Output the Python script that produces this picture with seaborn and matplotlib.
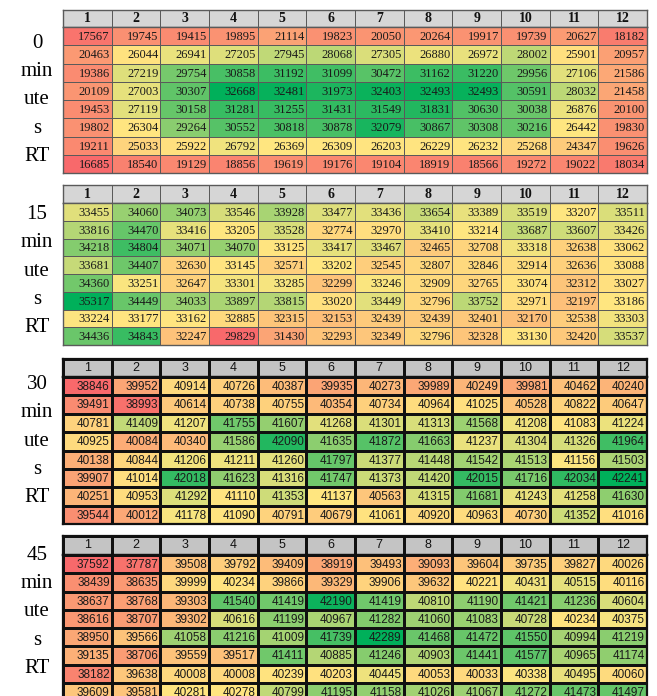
import matplotlib
matplotlib.use("Agg")
import matplotlib.pyplot as plt
import numpy as np
import seaborn as sns
from matplotlib.colors import LinearSegmentedColormap, ListedColormap, TwoSlopeNorm

# ─── data: plate readings (8 rows x 12 columns) ─────────────────
columns = [str(c) for c in range(1, 13)]

rt0 = [
    [17567, 19745, 19415, 19895, 21114, 19823, 20050, 20264, 19917, 19739, 20627, 18182],
    [20463, 26044, 26941, 27205, 27945, 28068, 27305, 26880, 26972, 28002, 25901, 20957],
    [19386, 27219, 29754, 30858, 31192, 31099, 30472, 31162, 31220, 29956, 27106, 21586],
    [20109, 27003, 30307, 32668, 32481, 31973, 32403, 32493, 32493, 30591, 28032, 21458],
    [19453, 27119, 30158, 31281, 31255, 31431, 31549, 31831, 30630, 30038, 26876, 20100],
    [19802, 26304, 29264, 30552, 30818, 30878, 32079, 30867, 30308, 30216, 26442, 19830],
    [19211, 25033, 25922, 26792, 26369, 26309, 26203, 26229, 26232, 25268, 24347, 19626],
    [16685, 18540, 19129, 18856, 19619, 19176, 19104, 18919, 18566, 19272, 19022, 18034],
]
rt15 = [
    [33455, 34060, 34073, 33546, 33928, 33477, 33436, 33654, 33389, 33519, 33207, 33511],
    [33816, 34470, 33416, 33205, 33528, 32774, 32970, 33410, 33214, 33687, 33607, 33426],
    [34218, 34804, 34071, 34070, 33125, 33417, 33467, 32465, 32708, 33318, 32638, 33062],
    [33681, 34407, 32630, 33145, 32571, 33202, 32545, 32807, 32846, 32914, 32636, 33088],
    [34360, 33251, 32647, 33301, 33285, 32299, 33246, 32909, 32765, 33074, 32312, 33027],
    [35317, 34449, 34033, 33897, 33815, 33020, 33449, 32796, 33752, 32971, 32197, 33186],
    [33224, 33177, 33162, 32885, 32315, 32153, 32439, 32439, 32401, 32170, 32538, 33303],
    [34436, 34843, 32247, 29829, 31430, 32293, 32349, 32796, 32328, 33130, 32420, 33537],
]
rt30 = [
    [38846, 39952, 40914, 40726, 40387, 39935, 40273, 39989, 40249, 39981, 40462, 40240],
    [39491, 38993, 40614, 40738, 40755, 40354, 40734, 40964, 41025, 40528, 40822, 40647],
    [40781, 41409, 41207, 41755, 41607, 41268, 41301, 41313, 41568, 41208, 41083, 41224],
    [40925, 40084, 40340, 41586, 42090, 41635, 41872, 41663, 41237, 41304, 41326, 41964],
    [40138, 40844, 41206, 41211, 41260, 41797, 41377, 41448, 41542, 41513, 41156, 41503],
    [39907, 41014, 42018, 41623, 41316, 41747, 41373, 41420, 42015, 41716, 42034, 42241],
    [40251, 40953, 41292, 41110, 41353, 41137, 40563, 41315, 41681, 41243, 41258, 41630],
    [39544, 40012, 41178, 41090, 40791, 40679, 41061, 40920, 40963, 40730, 41352, 41016],
]
rt45 = [
    [37592, 37787, 39508, 39792, 39409, 38919, 39493, 39093, 39604, 39735, 39827, 40026],
    [38439, 38635, 39999, 40234, 39866, 39329, 39906, 39632, 40221, 40431, 40515, 40116],
    [38637, 38768, 39303, 41540, 41419, 42190, 41419, 40810, 41190, 41421, 41236, 40604],
    [38616, 38707, 39302, 40616, 41199, 40967, 41282, 41060, 41083, 40728, 40234, 40375],
    [38950, 39566, 41058, 41216, 41009, 41739, 42289, 41468, 41472, 41550, 40994, 41219],
    [39135, 38706, 39559, 39517, 41411, 40885, 41246, 40903, 41441, 41577, 40965, 41174],
    [38182, 39638, 40008, 40008, 40239, 40203, 40445, 40053, 40033, 40338, 40495, 40060],
    [39609, 39581, 40281, 40278, 40799, 41195, 41158, 41026, 41067, 41272, 41473, 41497],
]

labels = ["0\nmin\nute\ns\nRT", "15\nmin\nute\ns\nRT", "30\nmin\nute\ns\nRT", "45\nmin\nute\ns\nRT"]
plates = [rt0, rt15, rt30, rt45]

# ─── style ──────────────────────────────────────────────────────
CMAP = LinearSegmentedColormap.from_list("excel3", ["#F8696B", "#FFE680", "#00B05A"])
W, H = 657, 696

# (header top, header bottom, body bottom) in pixels, per panel
PANEL_Y = [(10, 27, 173), (185, 203, 345), (359, 377, 524), (536, 555, 701)]
LABEL_Y = [100, 271, 441, 612]
X0, X1 = 63, 647
SERIF = ["Liberation Serif", "DejaVu Serif"]
SANS = ["Liberation Sans", "DejaVu Sans"]

fig = plt.figure(figsize=(W / 100, H / 100), dpi=100, facecolor="white")


def px_axes(x0, x1, y0, y1):
    return fig.add_axes([x0 / W, 1 - y1 / H, (x1 - x0) / W, (y1 - y0) / H])


for i, (data, label) in enumerate(zip(plates, labels)):
    arr = np.array(data, dtype=float)
    top, mid, bot = PANEL_Y[i]
    old_style = i < 2
    family = SERIF if old_style else SANS
    lc = "#5a5a5a" if old_style else "#111111"

    # header row with column numbers
    ax_h = px_axes(X0, X1, top, mid)
    sns.heatmap(
        np.zeros((1, 12)),
        cmap=ListedColormap(["#D6D6D6" if old_style else "#C4C4C4"]),
        annot=np.array([columns]),
        fmt="",
        cbar=False,
        linewidths=0.7 if old_style else 0.9,
        linecolor=lc,
        annot_kws=dict(
            color="#111111",
            fontsize=10 if old_style else 9,
            fontweight="bold" if old_style else "normal",
            family=family,
        ),
        ax=ax_h,
    )
    ax_h.set_xticks([])
    ax_h.set_yticks([])

    # body
    ax = px_axes(X0, X1, mid, bot)
    norm = TwoSlopeNorm(vmin=arr.min(), vcenter=np.median(arr), vmax=arr.max())
    sns.heatmap(
        arr,
        cmap=CMAP,
        norm=norm,
        annot=True,
        fmt=".0f",
        cbar=False,
        linewidths=0.7 if old_style else 0.9,
        linecolor=lc,
        annot_kws=dict(color="#1a1a1a", fontsize=9 if old_style else 8.5, family=family),
        ax=ax,
    )
    # right-align values inside the cells
    for t in ax.texts:
        x, y = t.get_position()
        t.set_position((x + 0.46, y + 0.05))
        t.set_ha("right")
    ax.set_xticks([])
    ax.set_yticks([])
    for a in (ax, ax_h):
        for s in a.spines.values():
            s.set_visible(True)
            s.set_color(lc)
            s.set_linewidth(1.0 if old_style else 1.6)

    fig.text(
        37 / W,
        1 - LABEL_Y[i] / H,
        label,
        ha="center",
        va="center",
        fontsize=15,
        family=SERIF,
        linespacing=1.65,
    )

fig.savefig("out.png", dpi=100, facecolor="white")
